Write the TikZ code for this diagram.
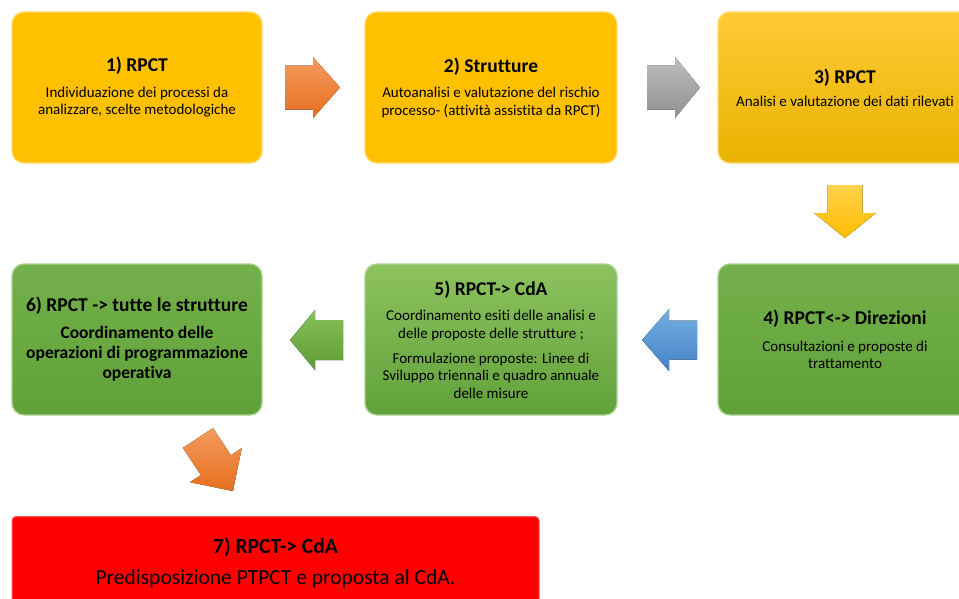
\documentclass[tikz,border=0pt]{standalone}
\usepackage{fontspec}
\setmainfont{Carlito}[Ligatures={TeX,NoCommon}]
\definecolor{yelF}{HTML}{FFC000}
\definecolor{yelB}{HTML}{FFD96A}
\definecolor{yelT}{HTML}{FFCA36}
\definecolor{yelD}{HTML}{E9B300}
\definecolor{greB}{HTML}{A9D18E}
\definecolor{greA}{HTML}{74B04B}
\definecolor{greZ}{HTML}{61A139}
\definecolor{greL}{HTML}{8DC35F}
\definecolor{redF}{HTML}{FF0000}
\definecolor{redB}{HTML}{FF5A5A}
\definecolor{orT}{HTML}{F59A5E}
\definecolor{orZ}{HTML}{E66F1E}
\definecolor{gyT}{HTML}{BDBDBD}
\definecolor{gyZ}{HTML}{919191}
\definecolor{ywT}{HTML}{FFD24A}
\definecolor{ywZ}{HTML}{FFBC00}
\definecolor{gaT}{HTML}{86C059}
\definecolor{gaZ}{HTML}{5E9B35}
\definecolor{blT}{HTML}{74AEE2}
\definecolor{blZ}{HTML}{4583C6}
\newcommand\boxttl[1]{{\fontsize{19.5}{22}\selectfont\bfseries #1}}
\begin{document}
\begin{tikzpicture}[x=1pt,y=-1pt,
  box/.style={rounded corners=12pt, line width=1.3pt, inner sep=0pt, align=center,
    text=black, font=\fontsize{15}{17.5}\selectfont, minimum height=151pt},
  yelbox/.style={box, draw=yelB, fill=yelF},
  yelgrad/.style={box, draw=yelB, top color=yelT, bottom color=yelD},
  grebox/.style={box, draw=greB, top color=greA, bottom color=greZ},
  grelight/.style={box, draw=greB, top color=greL, bottom color=greZ},
  redbox/.style={rounded corners=4pt, line width=1pt, inner sep=0pt, align=center,
    draw=redB, fill=redF, text=black, font=\fontsize{21.5}{25}\selectfont},
  orarrow/.style={top color=orT, bottom color=orZ},
  gyarrow/.style={top color=gyT, bottom color=gyZ},
  ywarrow/.style={top color=ywT, bottom color=ywZ},
  gaarrow/.style={top color=gaT, bottom color=gaZ},
  blarrow/.style={top color=blT, bottom color=blZ}
]
\clip (0,0) rectangle (959,598);
\fill[white] (0,0) rectangle (959,598);

% row 1
\node[yelbox, minimum width=250pt] (b1) at (137,87.5)
  {\boxttl{1) RPCT}\\[8pt]Individuazione dei processi da\\analizzare, scelte metodologiche};
\node[yelbox, minimum width=252pt] (b2) at (491,87.5)
  {\boxttl{2) Strutture}\\[8pt]Autoanalisi e valutazione del rischio\\processo- (attività assistita da RPCT)};
\node[yelgrad, minimum width=254pt] (b3) at (845,87.5)
  {\boxttl{3) RPCT}\\[5.5pt]Analisi e valutazione dei dati rilevati};

% row 2
\node[grebox, minimum width=254pt] (b4) at (845,339.5)
  {\boxttl{4) RPCT<-> Direzioni}\\[9.5pt]Consultazioni e proposte di\\trattamento};
\node[grelight, minimum width=252pt] (b5) at (491,339.5)
  {\boxttl{5) RPCT-> CdA}\\[8pt]Coordinamento esiti delle analisi e\\delle proposte delle strutture ;\\[7.5pt]Formulazione proposte: Linee di\\Sviluppo triennali e quadro annuale\\delle misure};
\node[grebox, minimum width=250pt, font=\fontsize{17.5}{20}\selectfont\bfseries] (b6) at (137,339.5)
  {\boxttl{6) RPCT -> tutte le strutture}\\[7pt]Coordinamento delle\\operazioni di programmazione\\operativa};

% row 3
\node[redbox, minimum width=527pt, minimum height=93pt] (b7) at (275.5,563)
  {{\bfseries 7) RPCT-> CdA}\\[6pt]Predisposizione PTPCT e proposta al CdA.};

% arrows
\fill[orarrow] (285,65.5) -- (313,65.5) -- (313,57) -- (340,87.5) -- (313,118) -- (313,109.5) -- (285,109.5) -- cycle;
\fill[gyarrow] (647,65.5) -- (675,65.5) -- (675,57) -- (700,87.5) -- (675,118) -- (675,109.5) -- (647,109.5) -- cycle;
\fill[ywarrow] (827.5,185) -- (862.5,185) -- (862.5,213) -- (876,213) -- (845,238) -- (814,213) -- (827.5,213) -- cycle;
\fill[blarrow] (697,320.5) -- (669,320.5) -- (669,309) -- (642,340) -- (669,371) -- (669,359.5) -- (697,359.5) -- cycle;
\fill[gaarrow] (343,320) -- (315,320) -- (315,310) -- (290,340) -- (315,370) -- (315,360) -- (343,360) -- cycle;
\begin{scope}[shift={(198,438)}, rotate=-56.6]
  \fill[orarrow] (0,-18) -- (32.5,-18) -- (32.5,-31) -- (63.5,0) -- (32.5,31) -- (32.5,18) -- (0,18) -- cycle;
\end{scope}
\end{tikzpicture}
\end{document}
